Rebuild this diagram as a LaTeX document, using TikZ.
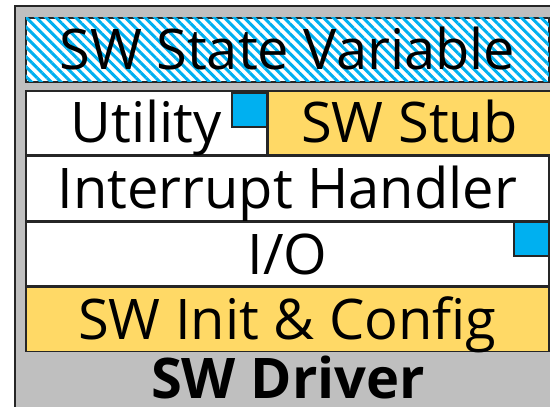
\documentclass[tikz,border=0pt]{standalone}
\usepackage{fontspec}
\setmainfont{Open Sans}
\usetikzlibrary{positioning, patterns.meta}
\definecolor{swgray}{RGB}{191,191,191}
\definecolor{swblue}{RGB}{0,176,240}
\definecolor{swyellow}{RGB}{255,217,102}
\definecolor{swborder}{RGB}{38,38,38}

\begin{document}
\begin{tikzpicture}[
  x=1pt, y=-1pt,
  node distance=0pt,
  layer/.style={
    rectangle, draw=swborder, line width=1.6pt,
    inner sep=0pt, minimum height=64pt,
    text height=52pt, text depth=12pt,
    font=\fontsize{56}{56}\selectfont
  },
  marker/.style={
    rectangle, draw=swborder, line width=1.6pt, fill=swblue,
    minimum width=35pt, minimum height=34pt, inner sep=0pt
  }
]
  \useasboundingbox (0,0) rectangle (550,407);

  % outer driver container
  \node[rectangle, draw=swborder, line width=2pt, fill=swgray,
        minimum width=560pt, minimum height=430pt, anchor=north west] (driver) at (14,5) {};

  \node[layer, anchor=north west, minimum width=523pt, fill=white,
        postaction={pattern={Lines[angle=-45, distance=7pt, line width=3pt]}, pattern color=swblue}]
        (state) at (25,17) {SW State Variable};

  \node[layer, anchor=north west, minimum width=241pt, fill=white] (util) at (25,90) {Utility};
  \node[layer, minimum width=282pt, fill=swyellow, right=of util] (stub) {SW Stub};
  \node[layer, anchor=north west, minimum width=523pt, fill=white] (irq) at (util.south west) {Interrupt Handler};
  \node[layer, anchor=north west, minimum width=523pt, fill=white] (io) at (irq.south west) {I/O};
  \node[layer, anchor=north west, minimum width=523pt, fill=swyellow] (init) at (io.south west) {SW Init \& Config};

  \node[marker, anchor=north east] (utilmark) at ([yshift=-2pt]util.north east) {};
  \node[marker, anchor=north east] (iomark) at (io.north east) {};

  \node[font=\fontsize{56}{56}\bfseries, anchor=base, inner sep=0pt] (drvlabel) at (288,398) {SW Driver};
\end{tikzpicture}
\end{document}
